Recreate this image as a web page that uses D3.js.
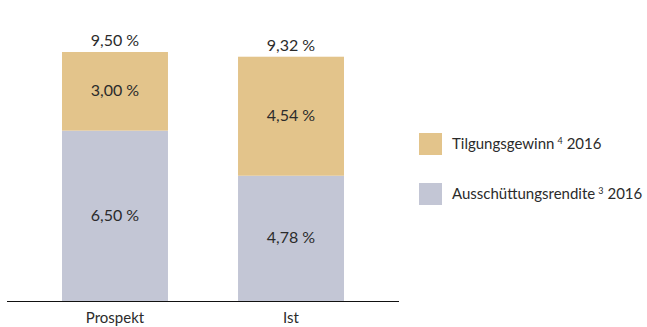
<!DOCTYPE html>
<html>
<head>
<meta charset="utf-8">
<script src="https://cdn.jsdelivr.net/npm/d3@7"></script>
<style>
  body { margin: 0; background: #fff; }
  text { font-family: "Lato", "Open Sans", sans-serif; fill: #2b2b2b; }
</style>
</head>
<body>
<div id="chart"></div>
<script>
'use strict';

const categories = ['Prospekt', 'Ist'];
const ausschuettung = [6.50, 4.78];
const tilgung = [3.00, 4.54];
const totals = [9.50, 9.32];
const legendLabels = [
  { name: 'Tilgungsgewinn', sup: '4', year: '2016', key: 'tilgung' },
  { name: 'Ausschüttungsrendite', sup: '3', year: '2016', key: 'ausschuettung' }
];

const colors = { tilgung: '#e3c48b', ausschuettung: '#c3c6d5' };
const fmt = v => d3.format('.2f')(v).replace('.', ',') + ' %';

const width = 647, height = 327;
const svg = d3.select('#chart').append('svg')
  .attr('width', width)
  .attr('height', height);

const baseY = 301;
// bars 106px wide, centres at 115 and 291
const x = d3.scaleBand()
  .domain(categories)
  .range([62, 344])
  .paddingInner(0.398)
  .paddingOuter(0);

const y = d3.scaleLinear().domain([0, 9.5]).range([baseY, 52]);

const rows = categories.map((c, i) => ({
  cat: c,
  segs: [
    { key: 'ausschuettung', y0: 0, y1: ausschuettung[i], v: ausschuettung[i] },
    { key: 'tilgung', y0: ausschuettung[i], y1: ausschuettung[i] + tilgung[i], v: tilgung[i] }
  ],
  total: totals[i]
}));

const g = svg.append('g');
const bars = g.selectAll('.bar')
  .data(rows)
  .enter()
  .append('g')
  .attr('class', 'bar');

bars.selectAll('rect')
  .data(d => d.segs.map(s => Object.assign({ cat: d.cat }, s)))
  .enter()
  .append('rect')
  .attr('x', d => x(d.cat))
  .attr('width', x.bandwidth())
  .attr('y', d => y(d.y1))
  .attr('height', d => y(d.y0) - y(d.y1))
  .attr('fill', d => colors[d.key]);

bars.selectAll('.seg-label')
  .data(d => d.segs.map(s => Object.assign({ cat: d.cat }, s)))
  .enter()
  .append('text')
  .attr('class', 'seg-label')
  .attr('x', d => x(d.cat) + x.bandwidth() / 2)
  .attr('y', d => (y(d.y0) + y(d.y1)) / 2 + 5)
  .attr('text-anchor', 'middle')
  .style('font-size', '16px')
  .text(d => fmt(d.v));

bars.append('text')
  .attr('x', d => x(d.cat) + x.bandwidth() / 2)
  .attr('y', d => y(d.total) - 6)
  .attr('text-anchor', 'middle')
  .style('font-size', '16px')
  .text(d => fmt(d.total));

// axis line
svg.append('line')
  .attr('x1', 7).attr('x2', 399)
  .attr('y1', baseY + 0.5).attr('y2', baseY + 0.5)
  .attr('stroke', '#111').attr('stroke-width', 1.2);

svg.selectAll('.cat')
  .data(categories)
  .enter()
  .append('text')
  .attr('class', 'cat')
  .attr('x', d => x(d) + x.bandwidth() / 2)
  .attr('y', 323)
  .attr('text-anchor', 'middle')
  .style('font-size', '15px')
  .text(d => d);

// legend
const legend = svg.selectAll('.legend')
  .data(legendLabels)
  .enter()
  .append('g')
  .attr('class', 'legend')
  .attr('transform', (d, i) => `translate(419,${133 + i * 50})`);

legend.append('rect')
  .attr('width', 23).attr('height', 22)
  .attr('fill', d => colors[d.key]);

const lt = legend.append('text')
  .attr('x', 33).attr('y', 16)
  .style('font-size', '15px');
lt.append('tspan').text(d => d.name);
lt.append('tspan').attr('dx', 3).attr('dy', -5).style('font-size', '9px').text(d => d.sup);
lt.append('tspan').attr('dx', 4).attr('dy', 5).text(d => d.year);
</script>
</body>
</html>
